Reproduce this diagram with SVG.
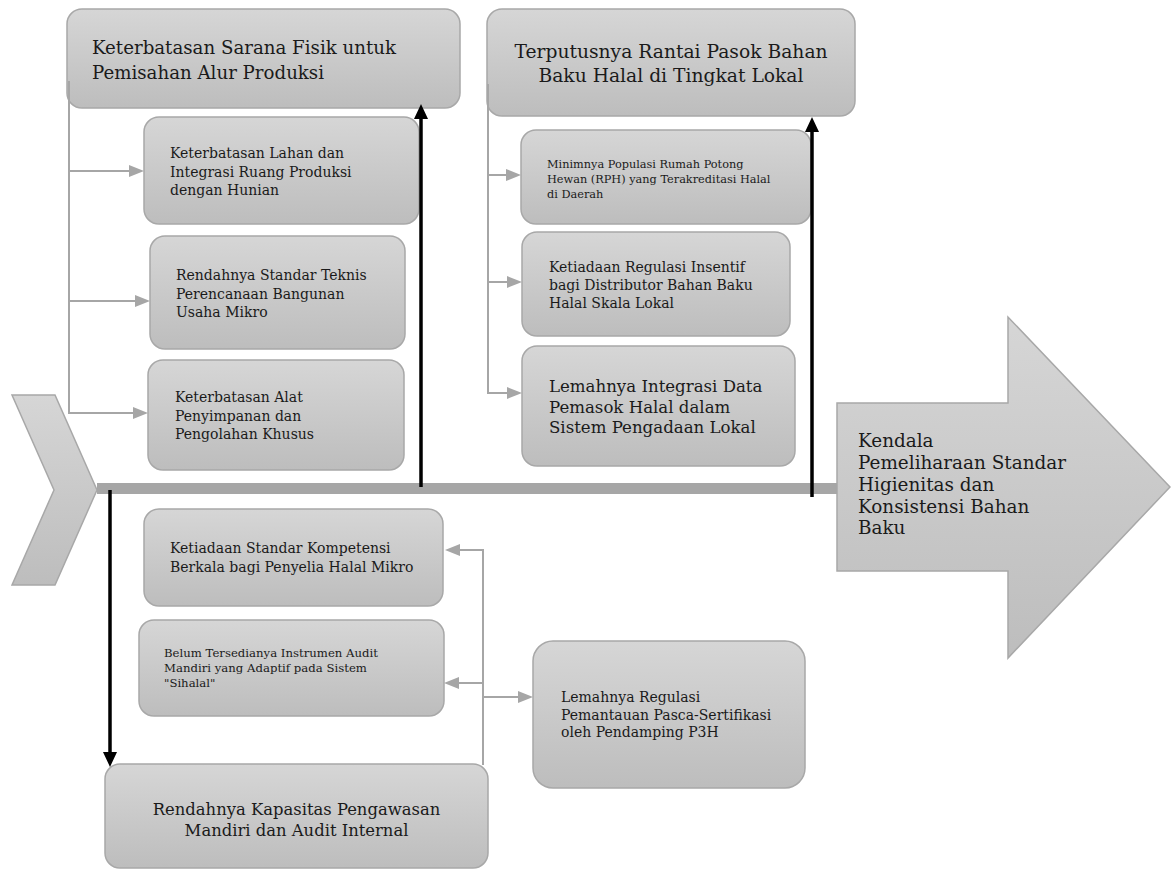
<svg xmlns="http://www.w3.org/2000/svg" width="1171" height="872" viewBox="0 0 1171 872">
<defs>
<linearGradient id="g" x1="0" y1="0" x2="0" y2="1">
<stop offset="0" stop-color="#d6d6d6"/>
<stop offset="1" stop-color="#bdbdbd"/>
</linearGradient>
<marker id="ga" markerUnits="userSpaceOnUse" markerWidth="15" markerHeight="12" refX="10" refY="6" orient="auto">
<path d="M0,0 L15,6 L0,12 z" fill="#a6a6a6"/>
</marker>
<marker id="ba" markerUnits="userSpaceOnUse" markerWidth="15" markerHeight="14" refX="9" refY="7" orient="auto">
<path d="M0,0 L15,7 L0,14 z" fill="#000"/>
</marker>
<style>
.box{fill:url(#g);stroke:#a8a8a8;stroke-width:1.5}
.t{font-family:"DejaVu Serif","Liberation Serif",serif;fill:#1a1a1a}
.gl{stroke:#a6a6a6;stroke-width:2;fill:none}
.gar{stroke:#a6a6a6;stroke-width:2;fill:none;marker-end:url(#ga)}
.bar{stroke:#000;stroke-width:3.5;fill:none;marker-end:url(#ba)}
</style>
</defs>
<rect width="1171" height="872" fill="#fff"/>

<g id="head">
<polygon class="box" points="837,403 1008,403 1008,317 1170,487 1008,658 1008,571 837,571"/>
<text class="t" font-size="18.4"><tspan x="858" y="447">Kendala</tspan><tspan x="858" y="469">Pemeliharaan Standar</tspan><tspan x="858" y="491">Higienitas dan</tspan><tspan x="858" y="513">Konsistensi Bahan</tspan><tspan x="858" y="534">Baku</tspan></text>
</g>

<g id="tail">
<polygon class="box" points="12,395 55,395 97,490 55,585 12,585 54,490"/>
</g>

<g id="spine">
<rect x="97" y="483" width="740" height="11" fill="#a6a6a6"/>
</g>

<g id="cat-sarana">
<rect class="box" x="67" y="9" width="393" height="99" rx="15"/>
<text class="t" font-size="18.2"><tspan x="92" y="54">Keterbatasan Sarana Fisik untuk</tspan><tspan x="92" y="79">Pemisahan Alur Produksi</tspan></text>
</g>
<g id="c-lahan">
<rect class="box" x="144" y="117" width="275" height="107" rx="15"/>
<text class="t" font-size="14"><tspan x="170" y="158">Keterbatasan Lahan dan</tspan><tspan x="170" y="176.5">Integrasi Ruang Produksi</tspan><tspan x="170" y="195">dengan Hunian</tspan></text>
</g>
<g id="c-standar">
<rect class="box" x="150" y="236" width="255" height="113" rx="15"/>
<text class="t" font-size="14"><tspan x="176" y="280">Rendahnya Standar Teknis</tspan><tspan x="176" y="298.5">Perencanaan Bangunan</tspan><tspan x="176" y="317">Usaha Mikro</tspan></text>
</g>
<g id="c-alat">
<rect class="box" x="148" y="360" width="256" height="110" rx="15"/>
<text class="t" font-size="14"><tspan x="175" y="402">Keterbatasan Alat</tspan><tspan x="175" y="420.5">Penyimpanan dan</tspan><tspan x="175" y="439">Pengolahan Khusus</tspan></text>
</g>

<g id="cat-rantai">
<rect class="box" x="487" y="9" width="368" height="107" rx="15"/>
<text class="t" font-size="18.7" text-anchor="middle"><tspan x="671" y="58">Terputusnya Rantai Pasok Bahan</tspan><tspan x="671" y="82">Baku Halal di Tingkat Lokal</tspan></text>
</g>
<g id="c-rph">
<rect class="box" x="521" y="130" width="290" height="94" rx="15"/>
<text class="t" font-size="11.3"><tspan x="547" y="168">Minimnya Populasi Rumah Potong</tspan><tspan x="547" y="183">Hewan (RPH) yang Terakreditasi Halal</tspan><tspan x="547" y="198">di Daerah</tspan></text>
</g>
<g id="c-insentif">
<rect class="box" x="522" y="232" width="268" height="104" rx="15"/>
<text class="t" font-size="14"><tspan x="549" y="272">Ketiadaan Regulasi Insentif</tspan><tspan x="549" y="290">bagi Distributor Bahan Baku</tspan><tspan x="549" y="308">Halal Skala Lokal</tspan></text>
</g>
<g id="c-data">
<rect class="box" x="522" y="346" width="273" height="120" rx="15"/>
<text class="t" font-size="16.6"><tspan x="549" y="392">Lemahnya Integrasi Data</tspan><tspan x="549" y="412.5">Pemasok Halal dalam</tspan><tspan x="549" y="433">Sistem Pengadaan Lokal</tspan></text>
</g>

<g id="c-kompetensi">
<rect class="box" x="144" y="509" width="299" height="97" rx="15"/>
<text class="t" font-size="14"><tspan x="170" y="553">Ketiadaan Standar Kompetensi</tspan><tspan x="170" y="572">Berkala bagi Penyelia Halal Mikro</tspan></text>
</g>
<g id="c-instrumen">
<rect class="box" x="139" y="620" width="305" height="96" rx="15"/>
<text class="t" font-size="11.7"><tspan x="164" y="657">Belum Tersedianya Instrumen Audit</tspan><tspan x="164" y="672">Mandiri yang Adaptif pada Sistem</tspan><tspan x="164" y="687">"Sihalal"</tspan></text>
</g>
<g id="c-regulasi">
<rect class="box" x="533" y="641" width="272" height="147" rx="20"/>
<text class="t" font-size="14"><tspan x="561" y="702">Lemahnya Regulasi</tspan><tspan x="561" y="719.5">Pemantauan Pasca-Sertifikasi</tspan><tspan x="561" y="737">oleh Pendamping P3H</tspan></text>
</g>
<g id="cat-pengawasan">
<rect class="box" x="105" y="764" width="383" height="104" rx="15"/>
<text class="t" font-size="16.4" text-anchor="middle"><tspan x="296.5" y="815">Rendahnya Kapasitas Pengawasan</tspan><tspan x="296.5" y="836">Mandiri dan Audit Internal</tspan></text>
</g>

<g id="connectors">
<line class="gl" x1="69" y1="81" x2="69" y2="414"/>
<line class="gar" x1="69" y1="171" x2="139" y2="171"/>
<line class="gar" x1="69" y1="301" x2="145" y2="301"/>
<line class="gar" x1="69" y1="413" x2="143" y2="413"/>
<line class="gl" x1="488" y1="84" x2="488" y2="394"/>
<line class="gar" x1="488" y1="175" x2="516" y2="175"/>
<line class="gar" x1="488" y1="282" x2="517" y2="282"/>
<line class="gar" x1="488" y1="393" x2="517" y2="393"/>
<line class="gl" x1="483" y1="765" x2="483" y2="549"/>
<line class="gar" x1="484" y1="550" x2="450" y2="550"/>
<line class="gar" x1="484" y1="683" x2="449" y2="683"/>
<line class="gar" x1="483" y1="697" x2="528" y2="697"/>
<line class="bar" x1="421" y1="487" x2="421" y2="110"/>
<line class="bar" x1="812" y1="497" x2="812" y2="123"/>
<line class="bar" x1="110" y1="490" x2="110" y2="761"/>
</g>
</svg>
